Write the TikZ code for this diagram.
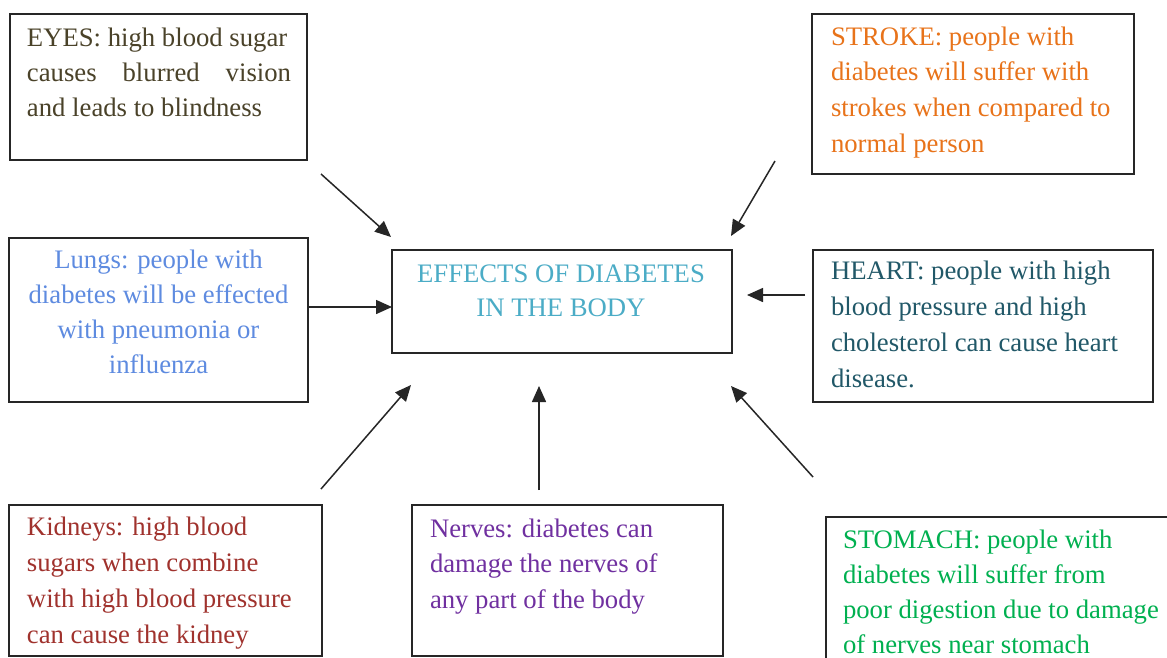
\documentclass[tikz,border=0pt]{standalone}
\usepackage{fontspec}
\setmainfont{Liberation Serif}
\usetikzlibrary{arrows.meta}
\definecolor{boxc}{HTML}{262626}
\definecolor{eyesc}{HTML}{4A4229}
\definecolor{strokec}{HTML}{E8731A}
\definecolor{lungsc}{HTML}{5E8BE0}
\definecolor{centc}{HTML}{4BACC6}
\definecolor{heartc}{HTML}{215868}
\definecolor{kidc}{HTML}{A0322D}
\definecolor{nervc}{HTML}{7030A0}
\definecolor{stomc}{HTML}{00B050}
\begin{document}
\begin{tikzpicture}[x=1pt,y=-1pt,
  boxn/.style={draw=boxc, line width=1.4pt, anchor=north west, inner sep=0pt, outer sep=0pt},
  txt/.style={inner sep=0pt, outer sep=0pt, align=left, anchor=base west},
  arr/.style={draw=boxc, line width=1.5pt, -{Triangle[length=16pt,width=14pt]}}]
\useasboundingbox (0,0) rectangle (1167,657);
\fill[white] (0,0) rectangle (1167,657);
% boxes
\node[boxn, minimum width=297pt, minimum height=146pt] (eyes) at (10,14) {};
\node[boxn, minimum width=322pt, minimum height=160pt] (stroke) at (812,14) {};
\node[boxn, minimum width=299pt, minimum height=164pt] (lungs) at (9,238) {};
\node[boxn, minimum width=340pt, minimum height=103pt] (cent) at (392,250) {};
\node[boxn, minimum width=340pt, minimum height=152pt] (heart) at (813,250) {};
\node[boxn, minimum width=313pt, minimum height=151pt] (kid) at (9,505) {};
\node[boxn, minimum width=311pt, minimum height=151pt] (nerv) at (412,505) {};
\node[boxn, minimum width=360pt, minimum height=160pt] (stom) at (826,517) {};
% texts (anchored at the baseline of the last line)
\node[txt, text=eyesc, font=\fontsize{26.7}{35}\selectfont] (eyesT) at (27,116)
  {EYES: high blood sugar\\ \makebox[264pt][s]{causes blurred vision}\\ and leads to blindness};
\node[txt, text=strokec, font=\fontsize{26.7}{35.6}\selectfont] (strokeT) at (831,152)
  {STROKE: people with\\ diabetes will suffer with\\ strokes when compared to\\ normal person};
\node[txt, anchor=base, align=center, text=lungsc, font=\fontsize{26.7}{34.7}\selectfont] (lungsT) at (158.5,373)
  {Lungs: people with\\ diabetes will be effected\\ with pneumonia or\\ influenza};
\node[txt, anchor=base, align=center, text=centc, font=\fontsize{26.7}{34}\selectfont] (centT) at (561,316)
  {EFFECTS OF DIABETES\\ IN THE BODY};
\node[txt, text=heartc, font=\fontsize{26.7}{36}\selectfont] (heartT) at (831,387)
  {HEART: people with high\\ blood pressure and high\\ cholesterol can cause heart\\ disease.};
\node[txt, text=kidc, font=\fontsize{26.7}{36}\selectfont] (kidT) at (27,643)
  {Kidneys: high blood\\ sugars when combine\\ with high blood pressure\\ can cause the kidney};
\node[txt, text=nervc, font=\fontsize{26.7}{35.5}\selectfont] (nervT) at (430,608)
  {Nerves: diabetes can\\ damage the nerves of\\ any part of the body};
\node[txt, text=stomc, font=\fontsize{26.7}{35}\selectfont] (stomT) at (843,653)
  {STOMACH: people with\\ diabetes will suffer from\\ poor digestion due to damage\\ of nerves near stomach};
% arrow end points
\coordinate (e1) at (321,174);  \coordinate (e2) at (391,237);
\coordinate (s1) at (775,161);  \coordinate (s2) at (731,236);
\coordinate (l1) at (lungs.east |- 0,307); \coordinate (l2) at (cent.west |- 0,307);
\coordinate (h1) at (805,295);  \coordinate (h2) at (747,295);
\coordinate (k1) at (321,489);  \coordinate (k2) at (411,385);
\coordinate (n1) at (539,490);  \coordinate (n2) at (539,386);
\coordinate (t1) at (813,477);  \coordinate (t2) at (731,386);
\draw[arr] (e1) -- (e2);
\draw[arr] (s1) -- (s2);
\draw[arr] (l1) -- (l2);
\draw[arr] (h1) -- (h2);
\draw[arr] (k1) -- (k2);
\draw[arr] (n1) -- (n2);
\draw[arr] (t1) -- (t2);
\end{tikzpicture}
\end{document}
